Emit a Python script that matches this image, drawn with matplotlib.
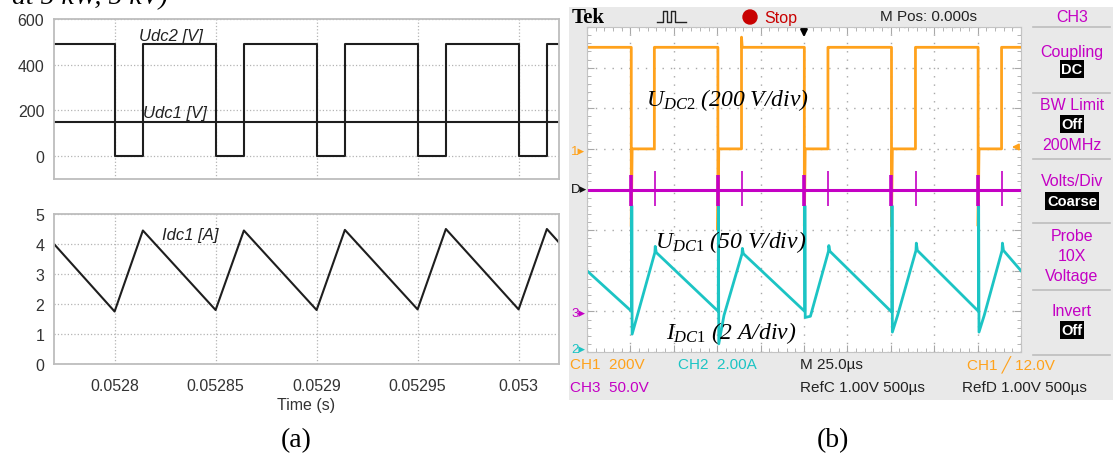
import matplotlib
matplotlib.use("Agg")
import matplotlib.pyplot as plt
from matplotlib.patches import Rectangle, Circle

plt.rcParams['mathtext.fontset'] = 'custom'
plt.rcParams['mathtext.it'] = 'Liberation Serif:italic'
plt.rcParams['mathtext.rm'] = 'Liberation Serif'
plt.rcParams['font.family'] = ['Liberation Sans', 'DejaVu Sans']

W, H = 1113, 464

# ---- (a) simulation ----
sim_tmin, sim_tmax = 0.05277, 0.05302
sim_fall = [0.05280, 0.05285, 0.05290, 0.05295, 0.05300]
sim_rise = [0.052814, 0.052864, 0.052914, 0.052964, 0.053014]
udc2_high = 490
udc2_low = 0
udc1 = 150
idc1_t = [0.05277, 0.05280, 0.052814, 0.05285, 0.052864, 0.05290,
          0.052914, 0.05295, 0.052964, 0.05300, 0.053014, 0.05302]
idc1_a = [4.0, 1.75, 4.45, 1.8, 4.45, 1.8, 4.47, 1.82, 4.5, 1.82, 4.5, 4.05]
sim_xticks = [0.0528, 0.05285, 0.0529, 0.05295, 0.053]
sim_xlabels = ['0.0528', '0.05285', '0.0529', '0.05295', '0.053']

# ---- (b) oscilloscope, time in us, levels in divisions from bottom ----
ch1_fall = [25.5, 75.4, 125.2, 175.4, 225.3]
ch1_rise = [38.8, 89.0, 138.8, 189.2, 238.8]
ch1_high = 7.5
ch1_low = 5.0
ch1_under = [3.1, 3.0, 3.1, 3.1, 3.1]
ch1_rise_top = [7.5, 7.75, 7.5, 7.5, 7.5]

ch2_start, ch2_end = 2.0, 2.0
ch2_min = [1.0, 1.0, 1.0, 0.98, 1.0]
ch2_top = [3.6, 3.6, 3.6, 3.6, 3.6]
ch2_bottom = [0.44, 0.2, 0.85, 0.49, 0.49]
ch2_dip = [0.9, 0.9, 0.88, 0.9, 0.9]
ch2_peak = [2.45, 2.42, 2.48, 2.5, 2.5]
ch2_over = [2.6, 2.55, 2.62, 2.68, 2.68]

ch3_level = 4.0
ch3_fall_spike = (4.35, 3.6)
ch3_rise_spike = (4.45, 3.6)

orange = '#ffa21c'
cyan = '#1cc4c4'
magenta = '#c400c4'

fig = plt.figure(figsize=(W / 100, H / 100), dpi=100)


def box(x0, y0, x1, y1):
    return [x0 / W, 1 - y1 / H, (x1 - x0) / W, (y1 - y0) / H]


ax_bg = fig.add_axes([0, 0, 1, 1], zorder=-1)
ax_bg.set_xlim(0, W)
ax_bg.set_ylim(H, 0)
ax_bg.set_axis_off()
ax_bg.add_patch(Rectangle((569, 8), W - 569, 393, fc='#e9e9e9', ec='none'))
for y in [28, 94, 160, 224, 291, 356]:
    ax_bg.plot([1033, 1110], [y, y], color='#bdbdbd', lw=1.2)

# simulation axes
ax1 = fig.add_axes(box(54, 20, 559, 180))
ax2 = fig.add_axes(box(54, 215, 559, 365))


def sim_style(ax):
    ax.set_xlim(sim_tmin, sim_tmax)
    ax.set_xticks(sim_xticks)
    ax.grid(True, color='#b4b4b4', ls=':', lw=0.9)
    ax.tick_params(length=0, labelsize=11.5, colors='#333333', pad=7)
    for s in ax.spines.values():
        s.set_color('#bdbdbd')
        s.set_linewidth(1.3)


ts, vs = [sim_tmin], [udc2_high]
for f, r in zip(sim_fall, sim_rise):
    ts += [f, f, r, r]
    vs += [udc2_high, udc2_low, udc2_low, udc2_high]
ts.append(sim_tmax)
vs.append(udc2_high)
ax1.plot(ts, vs, color='#1e1e1e', lw=1.5)
ax1.plot([sim_tmin, sim_tmax], [udc1, udc1], color='#1e1e1e', lw=1.5)
sim_style(ax1)
ax1.set_ylim(-100, 600)
ax1.set_yticks([0, 200, 400, 600])
ax1.set_xticklabels([])
ax1.text(0.0528121, 529, 'Udc2 [V]', style='italic', fontsize=12, va='center', color='#222222')
ax1.text(0.0528141, 192, 'Udc1 [V]', style='italic', fontsize=12, va='center', color='#222222')

ax2.plot(idc1_t, idc1_a, color='#1e1e1e', lw=1.5)
sim_style(ax2)
ax2.set_ylim(0, 5)
ax2.set_yticks([0, 1, 2, 3, 4, 5])
ax2.set_xticklabels(sim_xlabels)
ax2.tick_params(axis='x', pad=10)
ax2.set_xlabel('Time (s)', fontsize=11.5, color='#333333', labelpad=3)
ax2.text(0.0528235, 4.3, 'Idc1 [A]', style='italic', fontsize=12, va='center', color='#222222')

# oscilloscope screen
ax3 = fig.add_axes(box(587, 28, 1021, 353), zorder=1)
ax3.set_xlim(0, 250)
ax3.set_ylim(0, 8)
ax3.set_xticks([i * 25 for i in range(11)])
ax3.set_yticks(list(range(9)))
ax3.set_xticks([i * 5 for i in range(51)], minor=True)
ax3.set_yticks([i * 0.2 for i in range(41)], minor=True)
ax3.tick_params(which='both', direction='in', top=True, right=True,
                labelbottom=False, labelleft=False, color='#a8a8a8')
ax3.tick_params(which='major', length=5)
ax3.tick_params(which='minor', length=3)
ax3.grid(True, color='#a8a8a8', ls=(0, (1, 5)), lw=1.0)
for s in ax3.spines.values():
    s.set_color('#c4c4c4')

t1, v1 = [0], [ch1_high]
for f, r, u, s in zip(ch1_fall, ch1_rise, ch1_under, ch1_rise_top):
    t1 += [f, f, f + 0.5, r, r, r + 0.4]
    v1 += [ch1_high, u, ch1_low, ch1_low, s, ch1_high]
t1.append(250)
v1.append(ch1_high)
ax3.plot(t1, v1, color=orange, lw=2.0)

t2, v2 = [0], [ch2_start]
for f, r, mn, top, bot, dip, pk, ov in zip(ch1_fall, ch1_rise, ch2_min, ch2_top,
                                           ch2_bottom, ch2_dip, ch2_peak, ch2_over):
    t2 += [f + 0.2, f + 0.3, f + 0.5, f + 3.5, r + 0.3, r + 0.5, r + 1.1]
    v2 += [mn, top, bot, dip, pk, ov, pk]
t2.append(250)
v2.append(ch2_end)
ax3.plot(t2, v2, color=cyan, lw=2.0)

# CH3: flat trace, heavier spikes at the falling edges, thin ones at the rising edges
ax3.plot([0, 250], [ch3_level, ch3_level], color=magenta, lw=2.2)
ax3.vlines(ch1_fall, ch3_fall_spike[1], ch3_fall_spike[0], color=magenta, lw=2.6)
ax3.vlines([r + 0.3 for r in ch1_rise], ch3_rise_spike[1], ch3_rise_spike[0], color=magenta, lw=1.2)

serif_it = dict(fontsize=17, family='Liberation Serif', style='italic', va='center', color='black')
ax3.text(34, 6.23, r'$\mathit{U}_{\mathit{DC2}}$ (200 V/div)', **serif_it)
ax3.text(39.2, 2.73, r'$\mathit{U}_{\mathit{DC1}}$ (50 V/div)', **serif_it)
ax3.text(45.5, 0.49, r'$\mathit{I}_{\mathit{DC1}}$ (2 A/div)', **serif_it)

# overlay for scope labels, in pixels
ax_top = fig.add_axes([0, 0, 1, 1], zorder=5)
ax_top.set_xlim(0, W)
ax_top.set_ylim(H, 0)
ax_top.set_axis_off()
ax_top.patch.set_alpha(0)

sans = ['Liberation Sans', 'DejaVu Sans']
ax_top.text(572, 18, 'Tek', family='Liberation Serif', weight='bold', fontsize=15, va='center')
ax_top.plot([657, 663, 663, 667, 667, 671, 671, 675, 675, 686],
            [23, 23, 12, 12, 23, 23, 12, 12, 23, 23], color='#222222', lw=1.0)
ax_top.add_patch(Circle((750, 18), 7, color='#c80000'))
ax_top.text(764, 18, 'Stop', color='#c80000', family=sans, fontsize=11.5, va='center')
ax_top.text(880, 17, 'M Pos: 0.000s', color='#222222', family=sans, fontsize=11, va='center')
ax_top.text(1072, 17, 'CH3', color=magenta, family=sans, fontsize=11.5, va='center', ha='center')
ax_top.annotate('', xy=(804, 41), xytext=(804, 28),
                arrowprops=dict(arrowstyle='-|>', color='black', lw=1.6, mutation_scale=10))
ax_top.annotate('', xy=(1009, 148), xytext=(1020, 148),
                arrowprops=dict(arrowstyle='-|>', color=orange, lw=1.4, mutation_scale=9))

menu = [('Coupling', 52, False), ('DC', 70, True), ('BW Limit', 106, False), ('Off', 125, True),
        ('200MHz', 146, False), ('Volts/Div', 182, False), ('Coarse', 202, True),
        ('Probe', 237, False), ('10X', 257, False), ('Voltage', 277, False),
        ('Invert', 312, False), ('Off', 331, True)]
for label, y, inv in menu:
    if inv:
        ax_top.text(1072, y, label, color='white', family=sans, fontsize=10.5, va='center',
                    ha='center', weight='bold',
                    bbox=dict(boxstyle='square,pad=0.12', fc='black', ec='none'))
    else:
        ax_top.text(1072, y, label, color=magenta, family=sans, fontsize=11.5, va='center',
                    ha='center')

for label, y, col in [('1', 152, orange), ('D', 190, '#111111'), ('3', 314, magenta), ('2', 350, cyan)]:
    ax_top.text(571, y, label + '\u25b8', color=col, family=sans, fontsize=9.5, va='center')

status = [('CH1  200V', 570, 365, orange), ('CH2  2.00A', 678, 365, cyan),
          ('M 25.0\u00b5s', 800, 365, '#222222'), ('CH1 \u2571 12.0V', 967, 365, orange),
          ('CH3  50.0V', 570, 388, magenta), ('RefC 1.00V 500\u00b5s', 800, 388, '#222222'),
          ('RefD 1.00V 500\u00b5s', 962, 388, '#222222')]
for label, x, y, col in status:
    ax_top.text(x, y, label, color=col, family=sans, fontsize=11, va='center')

# captions
ax_top.text(296, 441, '(a)', family='Liberation Serif', fontsize=20, ha='center', va='center')
ax_top.text(833, 441, '(b)', family='Liberation Serif', fontsize=20, ha='center', va='center')
ax_top.text(12, 4, 'at 5 kW, 5 kV)', family='Liberation Serif', style='italic', fontsize=20,
            va='baseline')

fig.savefig('out.png', dpi=100)
